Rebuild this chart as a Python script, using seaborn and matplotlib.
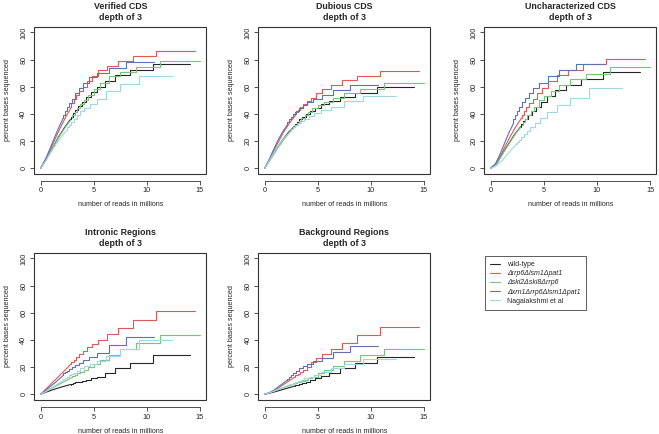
import matplotlib
matplotlib.use("Agg")
import matplotlib.pyplot as plt
from matplotlib.lines import Line2D
import pandas as pd
import seaborn as sns

strains = ['wild-type', 'Δrrp6Δlsm1Δpat1', 'Δski2Δski8Δrrp6',
           'Δxrn1Δrrp6Δlsm1Δpat1', 'Nagalakshmi et al']
colors = ['#262626', '#dd5a5a', '#7cc27c', '#6070b0', '#9fd8e2']

# reads (millions) at each sampling point, one list per library
reads_wt = [0, 0.56, 1.13, 1.69, 2.26, 2.82, 3.02, 3.25, 3.53, 3.85, 4.23, 4.70, 5.29, 6.04, 7.05, 8.46, 10.58, 14.1]
reads_rrp6 = [0, 0.58, 1.16, 1.74, 2.32, 2.90, 3.11, 3.35, 3.63, 3.95, 4.35, 4.83, 5.44, 6.21, 7.25, 8.70, 10.88, 14.5]
reads_ski = [0, 0.6, 1.2, 1.8, 2.4, 3.0, 3.21, 3.46, 3.75, 4.09, 4.5, 5.0, 5.63, 6.43, 7.5, 9.0, 11.25, 15.0]
reads_xrn1 = [0, 0.43, 0.86, 1.28, 1.71, 2.14, 2.29, 2.47, 2.68, 2.92, 3.21, 3.57, 4.01, 4.59, 5.35, 6.42, 8.03, 10.7]
reads_naga = [0, 0.50, 0.99, 1.49, 1.98, 2.48, 2.66, 2.86, 3.10, 3.38, 3.72, 4.13, 4.65, 5.31, 6.2, 7.44, 9.3, 12.4]
reads = [reads_wt, reads_rrp6, reads_ski, reads_xrn1, reads_naga]

# percent bases sequenced, same order as strains
verified_cds = [
    [0, 7, 15, 23, 30, 36, 38, 40.5, 43, 46, 49, 52.5, 56, 60, 64, 68.5, 72.5, 77],
    [0, 8, 18, 28, 37, 45, 48, 51, 54, 57, 60, 64, 68, 72, 75.5, 79, 82.5, 86],
    [0, 7.5, 16, 24, 31, 37, 39, 41.5, 44, 47, 50, 54, 58, 63, 67.5, 71, 74.5, 79],
    [0, 6, 14, 22, 30, 37, 39.5, 42, 45, 48, 51, 55, 59, 63, 67, 70, 74, 78.5],
    [0, 5.5, 12, 18, 23.5, 28, 30, 32, 34, 36.5, 39, 42, 44.5, 47, 51, 56.5, 62, 68],
]
dubious_cds = [
    [0, 7, 14.5, 21, 26.5, 31, 32.5, 34, 36, 38, 40, 42, 44.5, 47, 49.5, 52.5, 55.5, 60],
    [0, 8.5, 17.5, 26, 33, 39, 41, 43, 45, 47, 49.5, 52, 55.5, 58, 61, 65, 67.5, 71.5],
    [0, 7, 14.5, 21, 27, 31.5, 33, 35, 37, 39, 41.5, 44, 46.5, 49, 51.5, 55, 58.5, 63],
    [0, 6.5, 14, 21, 27, 32, 34, 36, 38, 40, 42, 44, 46.5, 48.5, 51, 54, 57.5, 61],
    [0, 6.5, 13, 19, 23.5, 27, 28.5, 30, 31.5, 33, 34.5, 36.5, 38.5, 40.5, 42.5, 45, 49.5, 53],
]
uncharacterized_cds = [
    [0, 3.5, 11, 18, 25, 30.5, 32.5, 34.5, 36.5, 39, 42, 45, 49, 53.5, 57.5, 61.5, 65.5, 71],
    [0, 4, 13, 22, 30, 37, 39.5, 42, 45, 48, 51, 55, 59, 64.5, 68.5, 72.5, 76.5, 80.5],
    [0, 3.5, 11.5, 19, 26, 32, 34, 36.5, 39, 42, 45, 50, 53.5, 57, 61, 65.5, 69.5, 74.3],
    [0, 3, 10, 18, 26, 33, 36, 39, 42, 45, 48.5, 52, 55.5, 59, 63, 68, 72.5, 77],
    [0, 1.5, 5, 9.5, 14, 18, 19.5, 21, 23, 25, 27.5, 30.5, 33.5, 37, 41, 46.5, 52, 59],
]
intronic = [
    [0, 1.7, 3.3, 4.7, 6, 7.2, 7.6, 8.1, 8.7, 9.3, 10, 10.8, 11.7, 12.8, 15.7, 19, 23, 29.2],
    [0, 4.5, 9, 13.5, 18, 22.5, 24, 25.5, 27.5, 29.5, 32, 34.5, 37.3, 40.3, 44.2, 49, 55, 61],
    [0, 2.5, 5, 7.5, 10, 12.5, 13.5, 14.5, 15.5, 16.5, 18, 20, 22.5, 25.5, 29, 33, 38, 44],
    [0, 2.5, 5.5, 8, 11, 14, 15.5, 16.5, 17.5, 18.5, 20, 21.5, 23, 25, 27.5, 30.5, 36, 42],
    [0, 2, 4.5, 7, 9.5, 12, 13, 14, 15, 16, 17.5, 19, 20.5, 22, 24.5, 28, 33.5, 40],
]
background = [
    [0, 1, 2.2, 3.5, 4.8, 6, 6.5, 7, 7.6, 8.3, 9.2, 10.3, 12, 13.5, 15.7, 19.6, 23, 27.5],
    [0, 1.5, 4, 7, 10, 13, 14, 15, 16.5, 18, 20, 23.5, 27, 30, 33.7, 38, 43.5, 49.6],
    [0, 1.5, 3.2, 5, 6.5, 8, 8.7, 9.3, 10, 10.8, 11.8, 13, 15.5, 17.7, 20.6, 24.6, 28.7, 33.7],
    [0, 1.2, 3, 5.5, 8, 10.5, 11.5, 12.5, 14, 15.5, 17, 19, 21, 22.5, 24.5, 27, 31, 35.4],
    [0, 1.2, 2.8, 4.3, 5.8, 7.3, 7.8, 8.4, 9, 9.8, 10.7, 11.8, 13, 14.5, 16.5, 19, 22.6, 26.3],
]

titles = ['Verified CDS', 'Dubious CDS', 'Uncharacterized CDS',
          'Intronic Regions', 'Background Regions']
panel_values = [verified_cds, dubious_cds, uncharacterized_cds, intronic, background]
positions = [[0.052, 0.600, 0.261, 0.338], [0.392, 0.600, 0.261, 0.338],
             [0.735, 0.600, 0.261, 0.338], [0.052, 0.079, 0.261, 0.338],
             [0.392, 0.079, 0.261, 0.338]]

sns.set_style('ticks')
plt.rcParams['font.family'] = ['Liberation Sans', 'DejaVu Sans']
edge = '#333333'
n_smooth = 6  # first points look like a smooth line, the rest are steps

fig = plt.figure(figsize=(6.59, 4.34), dpi=100)
palette = dict(zip(strains, colors))

for title, values, pos in zip(titles, panel_values, positions):
    ax = fig.add_axes(pos)
    early, late = [], []
    for name, x, y in zip(strains, reads, values):
        early.append(pd.DataFrame({'reads': x[:n_smooth], 'pct': y[:n_smooth], 'strain': name}))
        late.append(pd.DataFrame({'reads': x[n_smooth - 1:], 'pct': y[n_smooth - 1:], 'strain': name}))
    for part, style in [(early, 'default'), (late, 'steps-pre')]:
        df = pd.concat(part, ignore_index=True)
        sns.lineplot(data=df, x='reads', y='pct', hue='strain', hue_order=strains,
                     palette=palette, estimator=None, sort=False,
                     drawstyle=style, linewidth=0.8, legend=False, ax=ax)

    ax.set_xlim(-0.6, 15.6)
    ax.set_ylim(-4, 104)
    ax.set_xticks([0, 5, 10, 15])
    ax.set_yticks([0, 20, 40, 60, 80, 100])

    # R-like box plus a detached x axis
    ax.patch.set_edgecolor(edge)
    ax.patch.set_linewidth(0.8)
    for side in ['top', 'right', 'left']:
        ax.spines[side].set_visible(False)
    ax.spines['bottom'].set_position(('outward', 5))
    ax.spines['bottom'].set_bounds(0, 15)
    ax.spines['bottom'].set_color(edge)
    ax.spines['bottom'].set_linewidth(0.6)

    ax.tick_params(labelsize=5.3, length=3, width=0.6, pad=2, color=edge)
    ax.tick_params(axis='y', labelrotation=90)
    for lab in ax.get_yticklabels():
        lab.set_va('center')

    ax.set_xlabel('number of reads in millions', fontsize=5.1, labelpad=5)
    ax.set_ylabel('percent bases sequenced', fontsize=5.1, labelpad=7)
    ax.set_title(title + '\ndepth of 3', fontsize=6.4, fontweight='bold',
                 pad=5, linespacing=1.25)

handles = [Line2D([], [], color=c, linewidth=0.8) for c in colors]
leg = fig.legend(handles, strains, loc='upper left', bbox_to_anchor=(0.736, 0.41),
                 fontsize=5.0, frameon=True, fancybox=False, borderaxespad=0,
                 handlelength=1.4, handletextpad=1.0, borderpad=0.75,
                 labelspacing=0.3)
leg.get_frame().set_edgecolor(edge)
leg.get_frame().set_linewidth(0.7)
for t in leg.get_texts()[1:4]:
    t.set_style('italic')

fig.savefig('out.png', dpi=100)
